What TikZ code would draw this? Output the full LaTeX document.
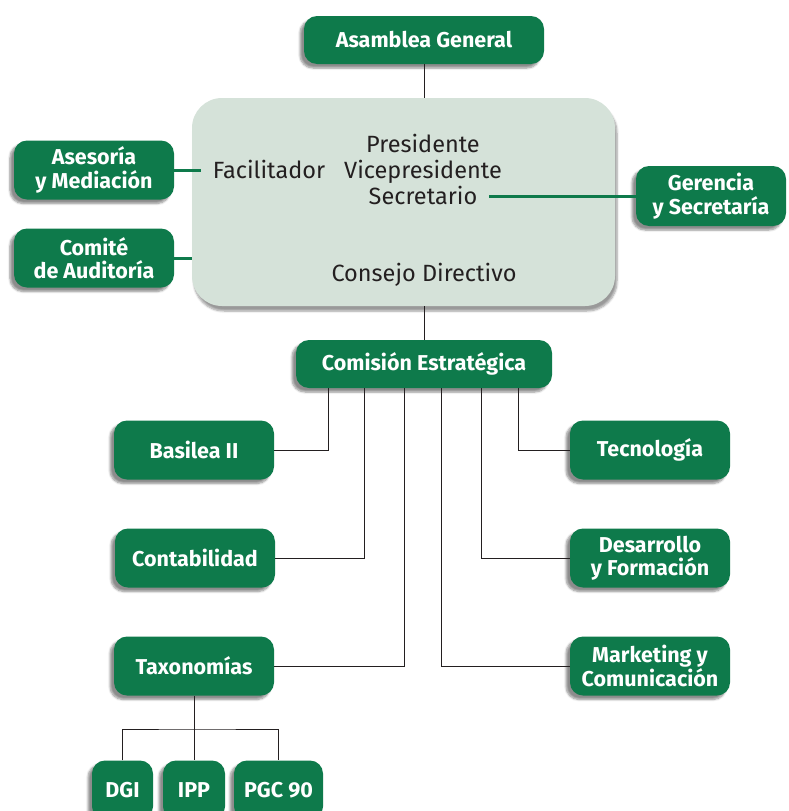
\documentclass[tikz,border=0pt]{standalone}
\usepackage{fontspec}
\setmainfont{Fira Sans}
\usetikzlibrary{shadows.blur}
\definecolor{gr}{RGB}{14,122,75}
\definecolor{pale}{RGB}{213,226,217}
\definecolor{ink}{RGB}{35,31,32}
\tikzset{
  gbox/.style={draw=none, fill=gr, rounded corners=13pt, text=white, align=center,
    font=\fontsize{21.5}{23.5}\selectfont\bfseries, inner sep=0pt,
    minimum height=59pt,
    blur shadow={shadow xshift=-4pt, shadow yshift=-4pt, shadow blur steps=6, shadow opacity=45}},
  big/.style={fill=pale, rounded corners=30pt, draw=none, inner sep=0pt,
    blur shadow={shadow xshift=2pt, shadow yshift=-5pt, shadow blur steps=6, shadow opacity=40}},
  plain/.style={text=ink, align=center, font=\fontsize{23.5}{26}\selectfont, inner sep=0pt},
  thin/.style={draw=ink, line width=1pt},
  gline/.style={draw=gr, line width=3pt}
}
\begin{document}
\begin{tikzpicture}[x=1pt, y=-1pt]
\useasboundingbox (0,0) rectangle (788,811);
\node[big, minimum width=423pt, minimum height=208pt] (cd) at (403.5,202) {};
\node[gbox, minimum width=240pt, minimum height=48pt] (ag) at (424,40) {Asamblea General};
\node[gbox, minimum width=160pt] (as) at (94,170) {Asesoría\\y Mediación};
\node[gbox, minimum width=160pt] (ca) at (94,258) {Comité\\de Auditoría};
\node[gbox, minimum width=150pt, minimum height=60pt] (gs) at (711,196) {Gerencia\\y Secretaría};
\node[plain] (fac) at (269,169) {Facilitador};
\node[plain] (off) at (423,169) {Presidente\\Vicepresidente\\Secretario};
\node[plain] (cons) at (424,275) {Consejo Directivo};
\coordinate (sec) at (489,196);
\coordinate (asend) at (201,170);
\node[gbox, minimum width=256pt, minimum height=48pt] (com) at (424,364) {Comisión Estratégica};
\node[gbox, minimum width=160pt] (bas) at (194,450) {Basilea II};
\node[gbox, minimum width=160pt] (con) at (195,558) {Contabilidad};
\node[gbox, minimum width=160pt] (tax) at (194,666) {Taxonomías};
\node[gbox, minimum width=160pt] (tec) at (650,450) {Tecnología};
\node[gbox, minimum width=160pt] (des) at (650,558) {Desarrollo\\y Formación};
\node[gbox, minimum width=160pt] (mar) at (650,666) {Marketing y\\Comunicación};
\node[gbox, minimum width=61pt] (dgi) at (122.5,790) {DGI};
\node[gbox, minimum width=62pt] (ipp) at (194,790) {IPP};
\node[gbox, minimum width=89pt] (pgc) at (278.5,790) {PGC 90};
% connectors
\draw[thin] (ag.south) -- (cd.north -| ag.south);
\draw[thin] (cd.south -| com.north) -- (com.north);
\draw[gline] (as.east) -- (asend);
\draw[gline] (ca.east) -- (ca.east -| cd.west);
\draw[gline] (sec) -- (gs.west);
\draw[thin] (com.south) ++(-96,0) |- (bas.east);
\draw[thin] (com.south) ++(-60,0) |- (con.east);
\draw[thin] (com.south) ++(-20,0) |- (tax.east);
\draw[thin] (com.south) ++(17,0) |- (mar.west);
\draw[thin] (com.south) ++(57,0) |- (des.west);
\draw[thin] (com.south) ++(94,0) |- (tec.west);
\coordinate (bar) at (194,729);
\draw[thin] (tax.south) -- (bar);
\draw[thin] (dgi.north) |- (bar) -| (pgc.north);
\draw[thin] (bar) -- (ipp.north);
\end{tikzpicture}
\end{document}
